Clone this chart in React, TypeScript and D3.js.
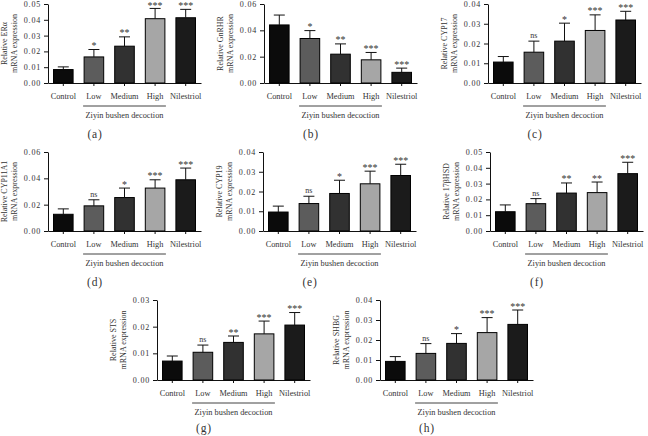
import { useRef, useEffect } from 'react';
import * as d3 from 'd3';

const groups = ['Control', 'Low', 'Medium', 'High', 'Nilestriol'];
const decoctionGroups = ['Low', 'Medium', 'High'];
const barColors = ['#0b0b0b', '#5c5c5c', '#313131', '#a6a6a6', '#1b1b1b'];

const genes = ['ERα', 'GnRHR', 'CYP17', 'CYP11A1', 'CYP19', '17βHSD', 'STS', 'SHBG'];
const letters = ['(a)', '(b)', '(c)', '(d)', '(e)', '(f)', '(g)', '(h)'];
const yMaxes = [0.05, 0.06, 0.04, 0.06, 0.04, 0.05, 0.03, 0.04];
const tickSteps = [0.01, 0.02, 0.01, 0.02, 0.01, 0.01, 0.01, 0.01];

// mean and upper SD per group
const meanERa = [0.0085, 0.0165, 0.0233, 0.0407, 0.0413];
const sdERa = [0.0017, 0.0047, 0.0059, 0.0065, 0.0053];
const meanGnRHR = [0.0441, 0.0338, 0.0219, 0.0176, 0.0081];
const sdGnRHR = [0.0075, 0.006, 0.0078, 0.0056, 0.0032];
const meanCYP17 = [0.0106, 0.0156, 0.0212, 0.0266, 0.0319];
const sdCYP17 = [0.0028, 0.0056, 0.0091, 0.0079, 0.0044];
const meanCYP11A1 = [0.0127, 0.0191, 0.0254, 0.0326, 0.0389];
const sdCYP11A1 = [0.0041, 0.0046, 0.0072, 0.0063, 0.0089];
const meanCYP19 = [0.0096, 0.0139, 0.019, 0.0239, 0.0281];
const sdCYP19 = [0.003, 0.0037, 0.0067, 0.0064, 0.0057];
const mean17bHSD = [0.0122, 0.0173, 0.024, 0.0243, 0.0363];
const sd17bHSD = [0.0043, 0.0032, 0.0064, 0.0067, 0.0072];
const meanSTS = [0.0071, 0.0104, 0.0141, 0.0173, 0.0206];
const sdSTS = [0.0019, 0.0027, 0.0024, 0.0048, 0.0047];
const meanSHBG = [0.0093, 0.0133, 0.0183, 0.0237, 0.0278];
const sdSHBG = [0.0024, 0.0049, 0.0049, 0.0075, 0.0072];

const sigERa = ['', '*', '**', '***', '***'];
const sigGnRHR = ['', '*', '**', '***', '***'];
const sigCYP17 = ['', 'ns', '*', '***', '***'];
const sigCYP11A1 = ['', 'ns', '*', '***', '***'];
const sigCYP19 = ['', 'ns', '*', '***', '***'];
const sig17bHSD = ['', 'ns', '**', '**', '***'];
const sigSTS = ['', 'ns', '**', '***', '***'];
const sigSHBG = ['', 'ns', '*', '***', '***'];

const means = [meanERa, meanGnRHR, meanCYP17, meanCYP11A1, meanCYP19, mean17bHSD, meanSTS, meanSHBG];
const sds = [sdERa, sdGnRHR, sdCYP17, sdCYP11A1, sdCYP19, sd17bHSD, sdSTS, sdSHBG];
const sigs = [sigERa, sigGnRHR, sigCYP17, sigCYP11A1, sigCYP19, sig17bHSD, sigSTS, sigSHBG];

// panel placement: y-axis x, plot top, plot bottom
const layout = [
  [48, 4, 83],
  [264, 4, 83],
  [488, 4, 83],
  [48, 152, 231],
  [263, 152, 231],
  [490, 152, 231],
  [157, 300, 380],
  [380, 300, 380],
];

const width = 648;
const height = 436;
const plotWidth = 153;
const font = '"Liberation Serif", "DejaVu Serif", serif';
const textColor = '#333';

function App() {
  const svgRef = useRef(null);

  useEffect(() => {
    const svg = d3.select(svgRef.current);
    svg.selectAll('*').remove();

    genes.forEach((gene, i) => {
      const [x0, top, bot] = layout[i];
      const g = svg.append('g');

      const x = d3
        .scaleBand()
        .domain(groups)
        .range([x0, x0 + plotWidth])
        .paddingInner(0.36)
        .paddingOuter(0.18);

      const y = d3.scaleLinear().domain([0, yMaxes[i]]).range([bot, top]);
      const bw = x.bandwidth();

      // y axis
      const yAxis = g
        .append('g')
        .attr('transform', `translate(${x0},0)`)
        .call(
          d3
            .axisLeft(y)
            .tickValues(d3.range(0, yMaxes[i] + 1e-9, tickSteps[i]))
            .tickFormat(d3.format('.2f'))
            .tickSize(4)
            .tickSizeOuter(0)
            .tickPadding(3)
        );
      yAxis
        .selectAll('text')
        .style('font-family', font)
        .style('font-size', '8px')
        .style('letter-spacing', '0.8px')
        .attr('fill', textColor);

      // x axis
      const xAxis = g
        .append('g')
        .attr('transform', `translate(0,${bot})`)
        .call(d3.axisBottom(x).tickSize(3).tickSizeOuter(0).tickPadding(7));
      xAxis
        .selectAll('text')
        .style('font-family', font)
        .style('font-size', '8.3px')
        .attr('fill', textColor);
      g.selectAll('.domain, .tick line').attr('stroke', '#111');

      // bars
      g.selectAll('.bar')
        .data(groups)
        .join('rect')
        .attr('class', 'bar')
        .attr('x', (d) => x(d))
        .attr('y', (_, j) => y(means[i][j]))
        .attr('width', bw)
        .attr('height', (_, j) => bot - y(means[i][j]))
        .attr('fill', (_, j) => barColors[j])
        .attr('stroke', '#000')
        .attr('stroke-width', 1);

      // error bars (upper only)
      const err = g
        .selectAll('.err')
        .data(groups)
        .join('g')
        .attr('class', 'err');
      err
        .append('line')
        .attr('x1', (d) => x(d) + bw / 2)
        .attr('x2', (d) => x(d) + bw / 2)
        .attr('y1', (_, j) => y(means[i][j]))
        .attr('y2', (_, j) => y(means[i][j] + sds[i][j]))
        .attr('stroke', '#111')
        .attr('stroke-width', 1);
      err
        .append('line')
        .attr('x1', (d) => x(d) + bw / 2 - 5.5)
        .attr('x2', (d) => x(d) + bw / 2 + 5.5)
        .attr('y1', (_, j) => y(means[i][j] + sds[i][j]))
        .attr('y2', (_, j) => y(means[i][j] + sds[i][j]))
        .attr('stroke', '#111')
        .attr('stroke-width', 1);

      // significance marks
      g.selectAll('.sig')
        .data(groups)
        .join('text')
        .attr('class', 'sig')
        .attr('x', (d) => x(d) + bw / 2)
        .attr('y', (_, j) =>
          Math.max(8.5, y(means[i][j] + sds[i][j]) + (sigs[i][j] === 'ns' ? -3 : -0.5))
        )
        .attr('text-anchor', 'middle')
        .style('font-family', font)
        .style('font-size', (_, j) => (sigs[i][j] === 'ns' ? '8px' : '10px'))
        .attr('fill', textColor)
        .text((_, j) => sigs[i][j]);

      // decoction bracket
      const bx1 = x(decoctionGroups[0]) - 1;
      const bx2 = x(decoctionGroups[decoctionGroups.length - 1]) + bw + 1;
      g.append('line')
        .attr('x1', bx1)
        .attr('x2', bx2)
        .attr('y1', bot + 23)
        .attr('y2', bot + 23)
        .attr('stroke', '#111')
        .attr('stroke-width', 0.8);
      g.append('text')
        .attr('x', (bx1 + bx2) / 2)
        .attr('y', bot + 35)
        .attr('text-anchor', 'middle')
        .style('font-family', font)
        .style('font-size', '8.3px')
        .attr('fill', textColor)
        .text('Ziyin bushen decoction');

      // y label (two lines)
      const mid = (top + bot) / 2;
      [`Relative ${gene}`, 'mRNA expression'].forEach((line, k) => {
        g.append('text')
          .attr('transform', `translate(${x0 - 43 + k * 10},${mid}) rotate(-90)`)
          .attr('text-anchor', 'middle')
          .attr('dominant-baseline', 'middle')
          .style('font-family', font)
          .style('font-size', '8px')
          .attr('fill', textColor)
          .text(line);
      });

      // panel letter
      g.append('text')
        .attr('x', x0 + 47)
        .attr('y', Math.min(bot + 55, 432))
        .attr('text-anchor', 'middle')
        .style('font-family', font)
        .style('font-size', '11.5px')
        .style('letter-spacing', '0.8px')
        .attr('fill', textColor)
        .text(letters[i]);
    });
  }, []);

  return (
    <svg
      ref={svgRef}
      width={width}
      height={height}
      style={{ position: 'absolute', left: 0, top: 0, background: '#fff' }}
    ></svg>
  );
}

export default App;
